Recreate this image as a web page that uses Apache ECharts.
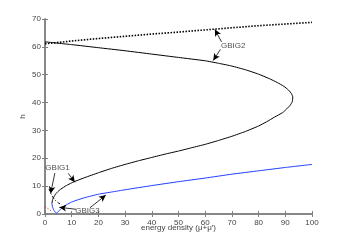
<!DOCTYPE html>
<html><head><meta charset="utf-8">
<script src="https://cdn.jsdelivr.net/npm/echarts@6/dist/echarts.min.js"></script>
<style>html,body{margin:0;padding:0;background:#fff}#c{width:346px;height:241px}</style>
</head><body><div id="c"></div>
<script>
// GBIG2 dotted branch
var dottedX = [0, 10, 20, 30, 40, 50, 64, 80, 100];
var dottedY = [61.1, 62.1, 63.0, 63.8, 64.6, 65.3, 66.4, 67.6, 68.8];
// main black solid branch (upper part, nose, lower part)
var blackX = [0, 10, 20, 30, 40, 50, 60, 65, 70, 75, 80, 84, 87, 89.5, 91.2, 92.3, 92.8, 92.6, 91.8, 90.5, 89, 86, 83, 80, 75, 70, 65, 60, 55, 50, 45, 40, 35, 30, 25, 20, 15, 12, 10, 8, 6, 5, 4, 3.3, 2.8, 2.6];
var blackY = [61.8, 60.8, 59.7, 58.6, 57.4, 56.2, 55.0, 54.1, 53.1, 51.8, 50.2, 48.6, 47.2, 45.8, 44.5, 43.2, 42.0, 40.3, 39.0, 37.7, 36.4, 34.8, 33.1, 31.6, 29.6, 27.9, 26.4, 25.0, 23.8, 22.6, 21.5, 20.3, 19.1, 17.8, 16.4, 14.8, 13.1, 12.0, 11.2, 10.2, 9.0, 8.2, 7.2, 6.1, 5.0, 3.8];
// blue branch
var blueX = [2.6, 2.8, 3.2, 3.7, 4.3, 5, 6, 7, 8, 10, 12, 15, 20, 25, 30, 40, 50, 60, 70, 80, 90, 100];
var blueY = [3.8, 2.6, 1.6, 0.8, 0.3, 0.9, 1.9, 2.7, 3.3, 4.3, 5.0, 5.9, 7.1, 7.9, 8.7, 10.2, 11.6, 12.9, 14.3, 15.5, 16.7, 17.8];
// black dash-dot segment
var dashX = [1.5, 2.2, 3.0, 4.0, 5.0, 6.3];
var dashY = [9.0, 7.5, 6.0, 4.8, 4.0, 3.2];
// red dotted segment
var redX = [0, 0.7, 1.5, 2.2];
var redY = [2.6, 2.3, 1.7, 1.2];
// tick labels
var xTicks = ['0','10','20','30','40','50','60','70','80','90','100'];
var yTicks = ['0','10','20','30','40','50','60','70'];
// annotations
var labelNames = ['GBIG2', 'GBIG1', 'GBIG3'];
var labelX = [70.5, 4.7, 15.9];
var labelY = [60.3, 16.5, 1.1];
var arrowTailX = [66.1, 65.7, 3.7, 8.7, 11.6, 16.8];
var arrowTailY = [61.8, 59.1, 14.7, 14.6, 1.7, 2.2];
var arrowHeadX = [63.6, 63.0, 2.1, 11.2, 5.35, 22.8];
var arrowHeadY = [66.3, 55.1, 7.4, 11.4, 2.4, 6.8];

function zip(a, b) { return a.map(function (v, i) { return [v, b[i]]; }); }

var axisCol = '#808080';
var textCol = '#444';
var font = 'Liberation Sans, Arial, sans-serif';

var arrows = arrowTailX.map(function (x, i) {
  return [{ coord: [x, arrowTailY[i]], symbol: 'none' },
          { coord: [arrowHeadX[i], arrowHeadY[i]], symbol: 'arrow' }];
});

var chart = echarts.init(document.getElementById('c'));
chart.setOption({
  animation: false,
  grid: { left: 45, right: 34, top: 19, bottom: 27 },
  xAxis: [{
    type: 'value', min: 0, max: 100, interval: 10,
    name: 'energy density (μ+μ′)', nameLocation: 'middle', nameGap: 10, nameMoveOverlap: false,
    nameTextStyle: { fontSize: 8, color: textCol, fontFamily: font },
    axisLine: { lineStyle: { color: axisCol, width: 1.5 } },
    axisTick: { inside: true, length: 3, lineStyle: { color: axisCol } },
    axisLabel: { fontSize: 8, color: textCol, margin: 5, fontFamily: font,
      formatter: function (v) { return xTicks[Math.round(v / 10)]; } },
    splitLine: { show: false }
  }, {
    type: 'value', min: 0, max: 100, interval: 10, position: 'top',
    axisLine: { lineStyle: { color: axisCol, width: 1.5 } },
    axisTick: { inside: true, length: 3, lineStyle: { color: axisCol } },
    axisLabel: { show: false }, splitLine: { show: false }
  }],
  yAxis: [{
    type: 'value', min: 0, max: 70, interval: 10,
    name: 'h', nameLocation: 'middle', nameGap: 18, nameMoveOverlap: false,
    nameTextStyle: { fontSize: 8, color: textCol, fontFamily: font },
    axisLine: { show: true, lineStyle: { color: axisCol, width: 1.5 } },
    axisTick: { show: true, inside: true, length: 3, lineStyle: { color: axisCol } },
    axisLabel: { fontSize: 8, color: textCol, margin: 4, fontFamily: font,
      formatter: function (v) { return yTicks[Math.round(v / 10)]; } },
    splitLine: { show: false }
  }, {
    type: 'value', min: 0, max: 70, interval: 10, position: 'right',
    axisLine: { show: true, lineStyle: { color: axisCol, width: 1.5 } },
    axisTick: { show: true, inside: true, length: 3, lineStyle: { color: axisCol } },
    axisLabel: { show: false }, splitLine: { show: false }
  }],
  series: [
    { type: 'line', data: zip(dottedX, dottedY), showSymbol: false,
      lineStyle: { color: '#000', width: 1.6, type: [1.5, 1.5] } },
    { type: 'line', data: zip(blackX, blackY), showSymbol: false, smooth: 0.15,
      lineStyle: { color: '#000', width: 1 } },
    { type: 'line', data: zip(blueX, blueY), showSymbol: false, smooth: 0.15,
      lineStyle: { color: '#1f3cff', width: 1 } },
    { type: 'line', data: zip(dashX, dashY), showSymbol: false,
      lineStyle: { color: '#000', width: 1, type: [3, 2, 1, 2] } },
    { type: 'line', data: zip(redX, redY), showSymbol: false,
      lineStyle: { color: '#ff0000', width: 1, type: [1, 2] } },
    { type: 'scatter', symbolSize: 0, silent: true,
      data: labelX.map(function (x, i) { return { value: [x, labelY[i]], name: labelNames[i] }; }),
      label: { show: true, position: 'inside', formatter: '{b}', fontSize: 8, color: '#222', fontFamily: font },
      markLine: { silent: true, symbolSize: [5, 7], label: { show: false },
        lineStyle: { color: '#000', width: 0.8, type: 'solid' },
        data: arrows }
    }
  ]
});
</script></body></html>
